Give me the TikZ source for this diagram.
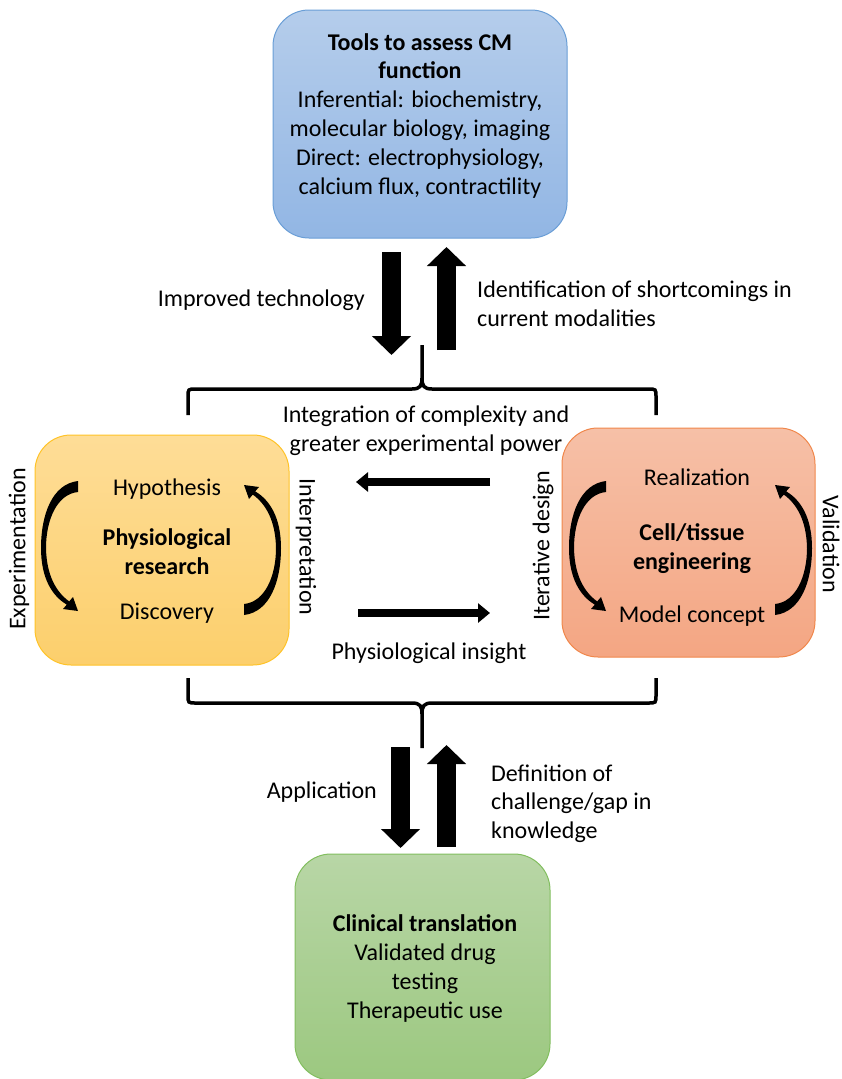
\documentclass[tikz,border=0pt]{standalone}
\usepackage{fontspec}
\setmainfont{Carlito}
\usetikzlibrary{arrows.meta}
\definecolor{bluetop}{RGB}{181,205,235}
\definecolor{bluebot}{RGB}{146,182,228}
\definecolor{blueline}{RGB}{106,158,214}
\definecolor{yeltop}{RGB}{254,221,151}
\definecolor{yelbot}{RGB}{252,207,108}
\definecolor{yelline}{RGB}{255,195,40}
\definecolor{ortop}{RGB}{246,192,167}
\definecolor{orbot}{RGB}{244,166,131}
\definecolor{orline}{RGB}{240,135,75}
\definecolor{grtop}{RGB}{184,214,166}
\definecolor{grbot}{RGB}{156,200,128}
\definecolor{grline}{RGB}{130,190,95}
\tikzset{
  txt/.style={anchor=base, inner sep=0pt, font=\fontsize{24}{29}\selectfont},
  rtxt/.style={anchor=center, inner sep=0pt, font=\fontsize{24}{29}\selectfont},
  rbox/.style={rounded corners=36pt, line width=1pt, inner sep=0pt},
  bigarr/.style={line width=19pt, -{Triangle[length=19pt,width=38pt]}},
  medarr/.style={line width=8pt, -{Triangle[length=12pt,width=19pt]}},
  bracket/.style={line width=3.5pt},
  curvarrow/.pic={
    \fill[black] (18,-66) .. controls (-8,-63) and (-19,-32) .. (-19,1)
      .. controls (-19,31) and (-8,49) .. (6.8,57.6)
      -- (3,62) -- (18,64) -- (13,50) -- (9.2,54.4)
      .. controls (-4,45) and (-13.5,28) .. (-14,1)
      .. controls (-14,-27) and (-3,-53) .. (18,-55) -- cycle;
  }
}
\begin{document}
\begin{tikzpicture}[x=1pt,y=-1pt]
\useasboundingbox (0,0) rectangle (841,1079);

% boxes
\node[rbox, draw=blueline, top color=bluetop, bottom color=bluebot,
      minimum width=294pt, minimum height=228pt] (tools) at (420,124) {};
\node[rbox, draw=yelline, top color=yeltop, bottom color=yelbot,
      minimum width=254pt, minimum height=230pt] (physio) at (162,550) {};
\node[rbox, draw=orline, top color=ortop, bottom color=orbot,
      minimum width=253pt, minimum height=229pt] (eng) at (688.5,542.5) {};
\node[rbox, draw=grline, top color=grtop, bottom color=grbot,
      minimum width=255pt, minimum height=226pt] (clin) at (422.5,967) {};

% top box text
\node[txt] (t1) at (420,50) {\bfseries Tools to assess CM};
\node[txt] (t2) at (420,78) {\bfseries function};
\node[txt] (t3) at (420,107) {Inferential: biochemistry,};
\node[txt] (t4) at (420,136) {molecular biology, imaging};
\node[txt] (t5) at (420,165) {Direct: electrophysiology,};
\node[txt] (t6) at (420,194) {calcium flux, contractility};

% top arrows
\coordinate (tdS) at (391.5,252); \coordinate (tdE) at (391.5,355);
\coordinate (tuS) at (446.5,350); \coordinate (tuE) at (446.5,247);
\draw[bigarr] (tdS) -- (tdE);
\draw[bigarr] (tuS) -- (tuE);
\node[txt, anchor=base east] (imp) at (365,306) {Improved technology};
\node[txt, anchor=base west] (id1) at (477,297) {Identification of shortcomings in};
\node[txt, anchor=base west] (id2) at (477,326) {current modalities};

% top bracket
\draw[bracket] (188,415) -- (188,397) .. controls (188,389) .. (196,389) -- (412,389)
  .. controls (420,389) and (422,386) .. (422,378) -- (422,345);
\draw[bracket] (656,415) -- (656,397) .. controls (656,389) .. (648,389) -- (432,389)
  .. controls (424,389) and (422,386) .. (422,378);

\node[txt] (int1) at (426,422) {Integration of complexity and};
\node[txt] (int2) at (426,451) {greater experimental power};

% left box text
\node[txt] (hyp) at (167,495) {Hypothesis};
\node[txt] (pr1) at (167,545) {\bfseries Physiological};
\node[txt] (pr2) at (167,574) {\bfseries research};
\node[txt] (disc) at (167,619) {Discovery};
\pic at (60,547) {curvarrow};
\pic[rotate=180] at (262,549) {curvarrow};
\node[rtxt, rotate=90] (exp) at (19,549) {Experimentation};
\node[rtxt, rotate=-90] (interp) at (306,547) {Interpretation};

% right box text
\node[txt] (real) at (697,485) {Realization};
\node[txt] (ce1) at (692,540) {\bfseries Cell/tissue};
\node[txt] (ce2) at (692,569) {\bfseries engineering};
\node[txt] (mod) at (692,622) {Model concept};
\pic at (588,547) {curvarrow};
\pic[rotate=180] at (793,549) {curvarrow};
\node[rtxt, rotate=90] (iter) at (543,546) {Iterative design};
\node[rtxt, rotate=-90] (valid) at (831,544) {Validation};

% horizontal arrows
\coordinate (hlS) at (490,482); \coordinate (hlE) at (356,482);
\coordinate (hrS) at (358,613); \coordinate (hrE) at (490,613);
\draw[medarr] (hlS) -- (hlE);
\draw[medarr] (hrS) -- (hrE);
\node[txt] (pins) at (429,659) {Physiological insight};

% bottom bracket
\draw[bracket] (188,678) -- (188,695) .. controls (188,703) .. (196,703) -- (412,703)
  .. controls (420,703) and (422,706) .. (422,714) -- (422,748);
\draw[bracket] (656,678) -- (656,695) .. controls (656,703) .. (648,703) -- (432,703)
  .. controls (424,703) and (422,706) .. (422,714);

% bottom arrows
\coordinate (bdS) at (400.5,747); \coordinate (bdE) at (400.5,848);
\coordinate (buS) at (446.5,847); \coordinate (buE) at (446.5,745);
\draw[bigarr] (bdS) -- (bdE);
\draw[bigarr] (buS) -- (buE);
\node[txt, anchor=base east] (app) at (377,798) {Application};
\node[txt, anchor=base west] (def1) at (491,781) {Definition of};
\node[txt, anchor=base west] (def2) at (491,809) {challenge/gap in};
\node[txt, anchor=base west] (def3) at (491,838) {knowledge};

% bottom box text
\node[txt] (c1) at (425,931) {\bfseries Clinical translation};
\node[txt] (c2) at (425,960) {Validated drug};
\node[txt] (c3) at (425,989) {testing};
\node[txt] (c4) at (425,1018) {Therapeutic use};
\end{tikzpicture}
\end{document}
